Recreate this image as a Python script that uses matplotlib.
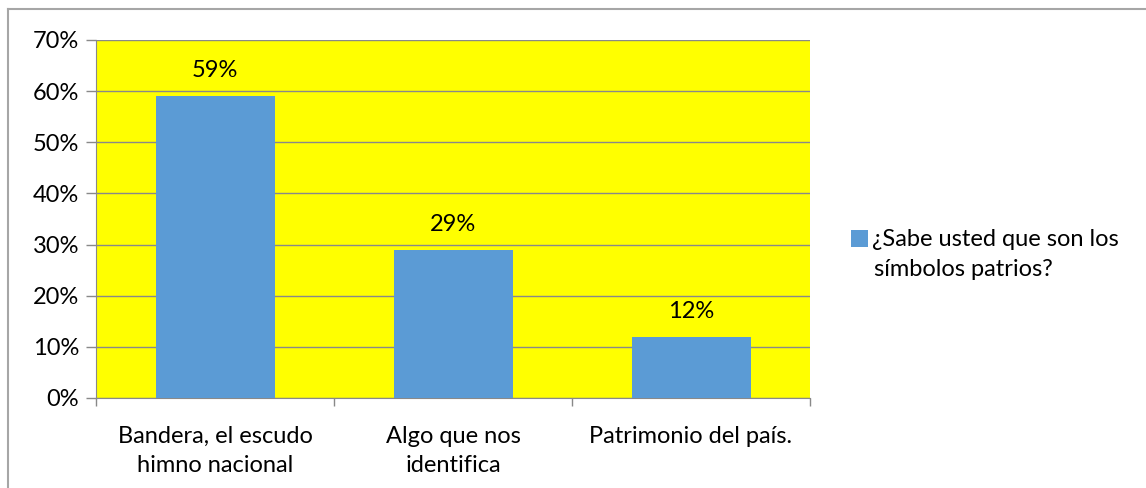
import matplotlib.pyplot as plt
from matplotlib.lines import Line2D
from matplotlib.ticker import PercentFormatter

# datos
categorias = ["Bandera, el escudo\nhimno nacional", "Algo que nos\nidentifica", "Patrimonio del país."]
valores = [0.59, 0.29, 0.12]
etiquetas = ["59%", "29%", "12%"]
serie = ["¿Sabe usted que son los", "símbolos patrios?"]

plt.rcParams['font.family'] = ['Lato', 'DejaVu Sans']
azul = "#5B9BD5"
gris = "#898989"
fs = 17

fig = plt.figure(figsize=(11.46, 4.88), dpi=100)
ax = fig.add_axes([96 / 1146, 1 - 398 / 488, (810 - 96) / 1146, (398 - 40) / 488])
ax.set_facecolor("#FFFF00")

x = range(len(categorias))
ax.bar(x, valores, width=0.5, color=azul, zorder=3, label=serie[0])
for xi, v, t in zip(x, valores, etiquetas):
    ax.text(xi, v + 0.05, t, ha="center", va="center", fontsize=fs, zorder=4)

ax.set_xlim(-0.5, len(categorias) - 0.5)
ax.set_ylim(0, 0.7)
ax.set_yticks([i / 10 for i in range(8)])
ax.yaxis.set_major_formatter(PercentFormatter(1.0, decimals=0))
ax.grid(axis="y", color=gris, linewidth=1, zorder=1)

ax.set_xticks([i - 0.5 for i in range(len(categorias) + 1)], minor=False)
ax.set_xticklabels([])
ax.set_xticks(list(x), minor=True)
ax.set_xticklabels(categorias, minor=True, fontsize=fs, linespacing=1.5)
ax.tick_params(axis="x", which="minor", length=0, pad=20)
ax.tick_params(axis="x", which="major", length=6, color=gris, width=1)
ax.tick_params(axis="y", length=7, color=gris, width=1, labelsize=fs, pad=5)

for lado in ["top", "right"]:
    ax.spines[lado].set_visible(False)
ax.spines["left"].set_color(gris)
ax.spines["bottom"].set_color(gris)

ax.legend(loc="center left", bbox_to_anchor=(830 / 1146, 1 - 240 / 488),
          bbox_transform=fig.transFigure, frameon=False, fontsize=fs,
          handlelength=0.7, handleheight=0.7, handletextpad=0.2)
fig.text(874 / 1146, 1 - 270 / 488, serie[1], fontsize=fs, va="center", ha="left")

# borde exterior (solo arriba e izquierda visibles)
fig.lines.append(Line2D([8 / 1146, 1], [1 - 9 / 488, 1 - 9 / 488], transform=fig.transFigure,
                        color="#A6A6A6", linewidth=1.5))
fig.lines.append(Line2D([8 / 1146, 8 / 1146], [0, 1 - 9 / 488], transform=fig.transFigure,
                        color="#A6A6A6", linewidth=1.5))

fig.savefig("out.png", dpi=100)
